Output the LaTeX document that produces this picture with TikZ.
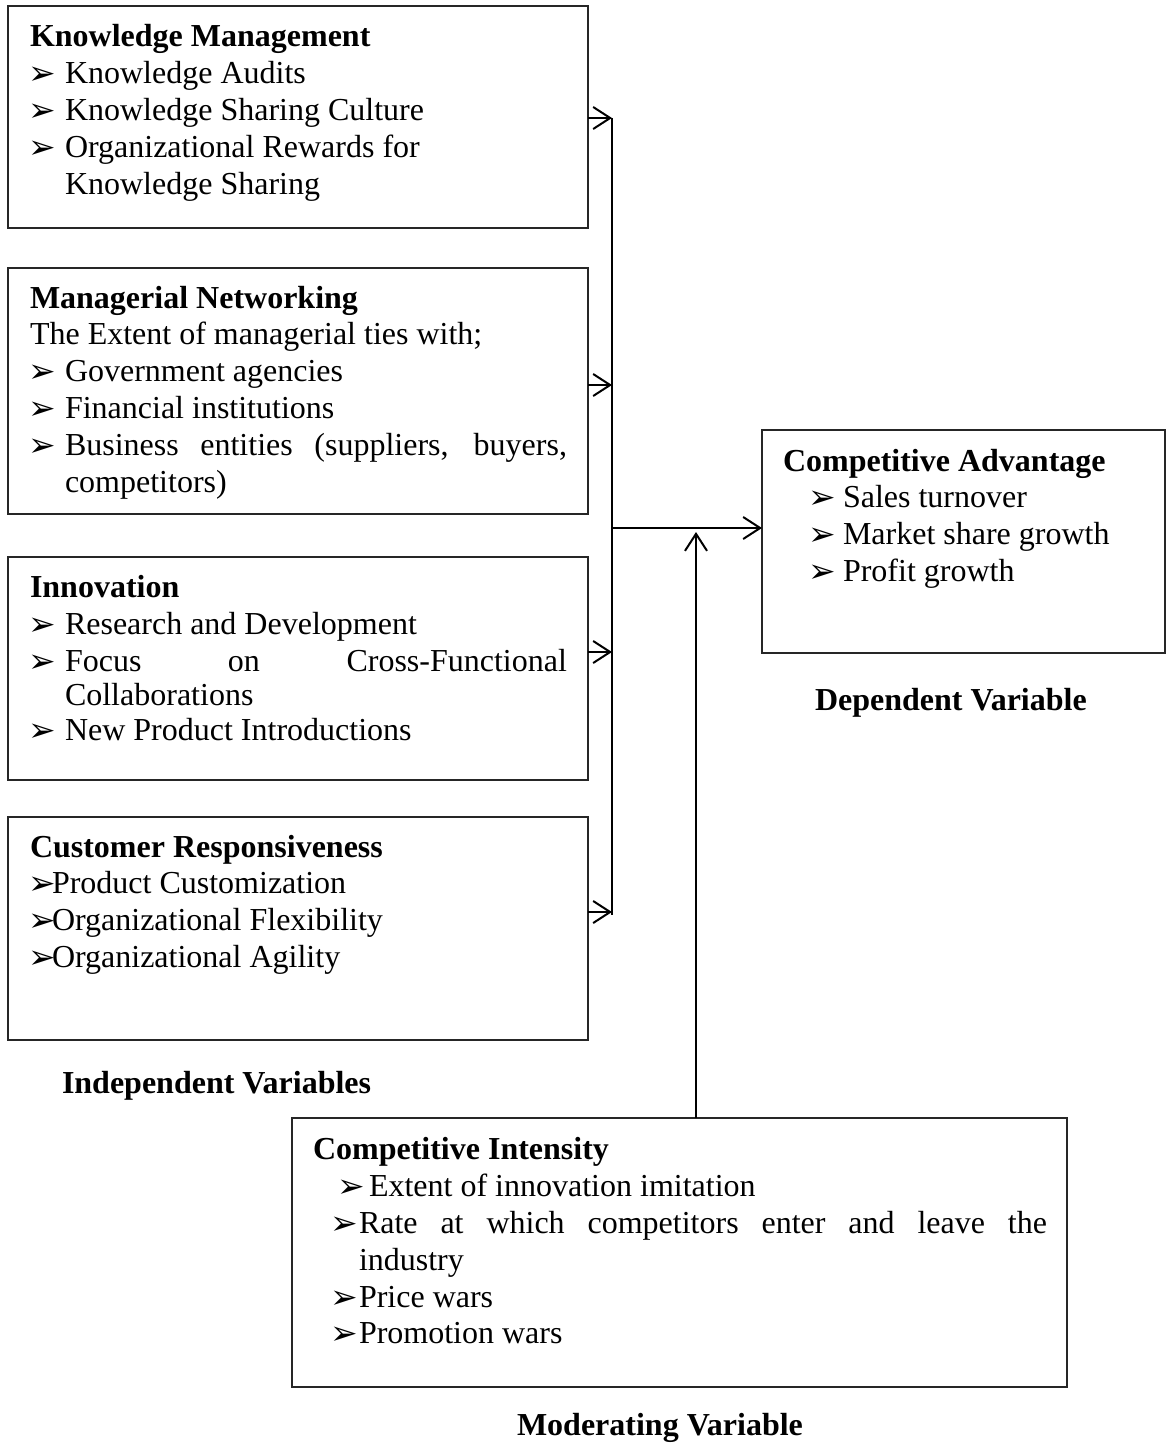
\documentclass[tikz,border=0pt]{standalone}
\usepackage{fontspec}
\setmainfont{Liberation Serif}
\newfontfamily\dejavu{DejaVu Sans}
\usetikzlibrary{arrows.meta}
\begin{document}
\begin{tikzpicture}[x=1pt,y=-1pt,
  box/.style={draw=black!85, line width=1.3pt, inner sep=0pt, outer sep=0pt, anchor=north west},
  txt/.style={anchor=base west, inner sep=0pt, outer sep=0pt, font=\fontsize{32}{37}\selectfont},
  hd/.style={txt, font=\fontsize{32}{37}\selectfont\bfseries},
  bl/.style={anchor=base west, inner sep=0pt, outer sep=0pt, font=\dejavu\fontsize{33}{33}\selectfont},
  ln/.style={line width=2pt},
  conn/.style={line width=2pt, -{Straight Barb[length=17pt,width=22pt,line width=2pt]}}]
\useasboundingbox[fill=white] (0,0) rectangle (1166,1443);

% boxes
\node[box, minimum width=580pt, minimum height=222pt] (km) at (8,6) {};
\node[box, minimum width=580pt, minimum height=246pt] (mn) at (8,268) {};
\node[box, minimum width=580pt, minimum height=223pt] (in) at (8,557) {};
\node[box, minimum width=580pt, minimum height=223pt] (cr) at (8,817) {};
\node[box, minimum width=403pt, minimum height=223pt] (ca) at (762,430) {};
\node[box, minimum width=775pt, minimum height=269pt] (ci) at (292,1118) {};

% Knowledge Management
\node[hd] (km0) at (30,46) {Knowledge Management};
\node[bl] (km1b) at (28,84) {➢};
\node[txt] (km1) at (65,83) {Knowledge Audits};
\node[bl] (km2b) at (28,121) {➢};
\node[txt] (km2) at (65,120) {Knowledge Sharing Culture};
\node[bl] (km3b) at (28,158) {➢};
\node[txt] (km3) at (65,157) {Organizational Rewards for};
\node[txt] (km4) at (65,194) {Knowledge Sharing};

% Managerial Networking
\node[hd] (mn0) at (30,308) {Managerial Networking};
\node[txt] (mn1) at (30,344) {The Extent of managerial ties with;};
\node[bl] (mn2b) at (28,382) {➢};
\node[txt] (mn2) at (65,381) {Government agencies};
\node[bl] (mn3b) at (28,419) {➢};
\node[txt] (mn3) at (65,418) {Financial institutions};
\node[bl] (mn4b) at (28,456) {➢};
\node[txt] (mn4) at (65,455) {\makebox[502pt][s]{Business entities (suppliers, buyers,}};
\node[txt] (mn5) at (65,492) {competitors)};

% Innovation
\node[hd] (in0) at (30,597) {Innovation};
\node[bl] (in1b) at (28,635) {➢};
\node[txt] (in1) at (65,634) {Research and Development};
\node[bl] (in2b) at (28,672) {➢};
\node[txt] (in2) at (65,671) {\makebox[502pt][s]{Focus on Cross-Functional}};
\node[txt] (in3) at (65,705) {Collaborations};
\node[bl] (in4b) at (28,741) {➢};
\node[txt] (in4) at (65,740) {New Product Introductions};

% Customer Responsiveness
\node[hd] (cr0) at (30,857) {Customer Responsiveness};
\node[bl] (cr1b) at (28,894) {➢};
\node[txt] (cr1) at (52,893) {Product Customization};
\node[bl] (cr2b) at (28,931) {➢};
\node[txt] (cr2) at (52,930) {Organizational Flexibility};
\node[bl] (cr3b) at (28,968) {➢};
\node[txt] (cr3) at (52,967) {Organizational Agility};

% Competitive Advantage
\node[hd] (ca0) at (783,471) {Competitive Advantage};
\node[bl] (ca1b) at (808,508) {➢};
\node[txt] (ca1) at (843,507) {Sales turnover};
\node[bl] (ca2b) at (808,545) {➢};
\node[txt] (ca2) at (843,544) {Market share growth};
\node[bl] (ca3b) at (808,582) {➢};
\node[txt] (ca3) at (843,581) {Profit growth};

% Competitive Intensity
\node[hd] (ci0) at (313,1159) {Competitive Intensity};
\node[bl] (ci1b) at (337,1197) {➢};
\node[txt] (ci1) at (369,1196) {Extent of innovation imitation};
\node[bl] (ci2b) at (330,1234) {➢};
\node[txt] (ci2) at (359,1233) {\makebox[688pt][s]{Rate at which competitors enter and leave the}};
\node[txt] (ci3) at (359,1270) {industry};
\node[bl] (ci4b) at (330,1308) {➢};
\node[txt] (ci4) at (359,1307) {Price wars};
\node[bl] (ci5b) at (330,1344) {➢};
\node[txt] (ci5) at (359,1343) {Promotion wars};

% labels
\node[hd] (lind) at (62,1093) {Independent Variables};
\node[hd] (ldep) at (815,710) {Dependent Variable};
\node[hd] (lmod) at (517,1435) {Moderating Variable};

% connectors
\coordinate (j1) at (612,118);
\coordinate (j2) at (612,385);
\coordinate (j3) at (612,652);
\coordinate (j4) at (612,912);
\coordinate (jb) at (612,915);
\coordinate (jm) at (612,528);
\coordinate (mt) at (696,532);
\draw[ln] (j1) -- (jb);
\draw[conn] (km.east |- j1) -- (j1);
\draw[conn] (mn.east |- j2) -- (j2);
\draw[conn] (in.east |- j3) -- (j3);
\draw[conn] (cr.east |- j4) -- (j4);
\draw[conn] (jm) -- (ca.west |- jm);
\draw[conn] (ci.north -| mt) -- (mt);
\end{tikzpicture}
\end{document}
